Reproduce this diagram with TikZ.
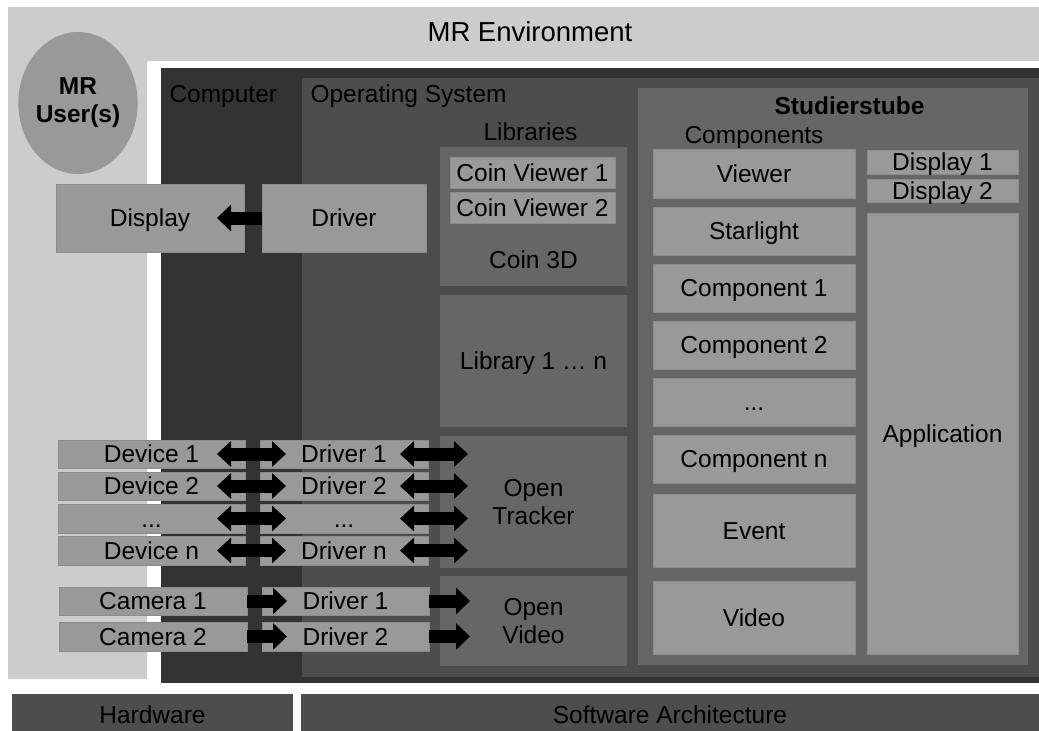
\documentclass[tikz,border=0pt]{standalone}
\usepackage{fontspec}
\setmainfont{Liberation Sans}
\usetikzlibrary{arrows.meta,calc,shapes.geometric}
\definecolor{envgray}{HTML}{CCCCCC}
\definecolor{compgray}{HTML}{333333}
\definecolor{osgray}{HTML}{4D4D4D}
\definecolor{midgray}{HTML}{666666}
\definecolor{boxgray}{HTML}{999999}
\definecolor{boxedge}{HTML}{8C8C8C}
\newcommand\mkbox[7]{\node[#2, minimum width={#5-#3}, minimum height={#6-#4}] (#1) at ({(#3+#5)/2},{(#4+#6)/2}) {#7};}
\tikzset{
  every node/.style={font=\fontsize{24.5}{28}\selectfont, inner sep=0pt, outer sep=0pt, text=black},
  capc/.style={text height=17.5pt, text depth=0pt},
  lightbox/.style={fill=boxgray, draw=boxedge, line width=0.8pt, capc},
  lightbox2/.style={fill=boxgray, draw=boxedge, line width=0.8pt, align=center},
  midbox/.style={fill=midgray, capc},
  midbox2/.style={fill=midgray, align=center},
  darkbar/.style={fill=osgray, capc},
  plain/.style={capc},
  flow/.style={line width=13pt, draw=black, -{Triangle[width=26pt,length=14pt]}},
  dflow/.style={line width=13pt, draw=black, {Triangle[width=25pt,length=14pt]}-{Triangle[width=25pt,length=14pt]}}
}
\begin{document}
\begin{tikzpicture}[x=1pt,y=-1pt]
\useasboundingbox (0,0) rectangle (1039,731);
% MR environment (L shape)
\fill[envgray] (8,7) -- (1039,7) -- (1039,61) -- (147,61) -- (147,679) -- (8,679) -- cycle;
\node[plain, font=\fontsize{27.5}{30}\selectfont] (envlbl) at (530,33) {MR Environment};
\node[ellipse, fill=boxgray, minimum width=118pt, minimum height=142pt, align=center, font=\fontsize{24.5}{28}\selectfont\bfseries] (user) at (78,103) {MR\\User(s)};
% computer and OS
\mkbox{computer}{fill=compgray}{161}{68}{1039}{683}{}
\node[plain, anchor=west] (complbl) at (169.5,93.5) {Computer};
\mkbox{os}{fill=osgray}{302}{78}{1039}{677}{}
\node[plain, anchor=west] (oslbl) at (310.5,93.5) {Operating System};
% libraries
\node[plain] (liblbl) at (530.5,131.5) {Libraries};
\mkbox{coin}{midbox}{440}{147}{627}{286}{}
\mkbox{cv1}{lightbox}{450}{157}{615}{188}{Coin Viewer 1}
\mkbox{cv2}{lightbox}{450}{192}{615}{223}{Coin Viewer 2}
\node[plain] (coinlbl) at (533.5,260) {Coin 3D};
\mkbox{lib}{midbox}{440}{295}{627}{427}{Library 1 … n}
\mkbox{tracker}{midbox2}{440}{436}{627}{568}{Open\\Tracker}
\mkbox{video}{midbox2}{440}{576}{627}{666}{Open\\Video}
% Studierstube
\mkbox{stb}{midbox}{638}{88}{1028}{665}{}
\node[plain, font=\fontsize{24.5}{28}\selectfont\bfseries] (stblbl) at (849.5,106) {Studierstube};
\node[plain] (complbl2) at (754,134.5) {Components};
\mkbox{viewer}{lightbox}{653}{149}{855}{198}{Viewer}
\mkbox{starlight}{lightbox}{653}{207}{855}{255}{Starlight}
\mkbox{c1}{lightbox}{653}{264}{855}{312}{Component 1}
\mkbox{c2}{lightbox}{653}{321}{855}{369}{Component 2}
\mkbox{cx}{lightbox}{653}{378}{855}{426}{...}
\mkbox{cn}{lightbox}{653}{435}{855}{483}{Component n}
\mkbox{event}{lightbox}{653}{494}{855}{567}{Event}
\mkbox{svideo}{lightbox}{653}{581}{855}{654}{Video}
\mkbox{d1}{lightbox}{867}{150}{1018}{174}{Display 1}
\mkbox{d2}{lightbox}{867}{179}{1018}{202}{Display 2}
\mkbox{app}{lightbox}{867}{213}{1018}{654}{Application}
% hardware side
\mkbox{disp}{lightbox}{56}{184}{244}{252}{Display}
\mkbox{ddrv}{lightbox}{262}{184}{426}{252}{Driver}
\mkbox{dev1}{lightbox}{58}{440}{245}{468}{Device 1}
\mkbox{dev2}{lightbox}{58}{472}{245}{500}{Device 2}
\mkbox{devx}{lightbox}{58}{504}{245}{533}{...}
\mkbox{devn}{lightbox}{58}{536}{245}{565}{Device n}
\mkbox{drv1}{lightbox}{260}{440}{428}{468}{Driver 1}
\mkbox{drv2}{lightbox}{260}{472}{428}{500}{Driver 2}
\mkbox{drvx}{lightbox}{260}{504}{428}{533}{...}
\mkbox{drvn}{lightbox}{260}{536}{428}{565}{Driver n}
\mkbox{cam1}{lightbox}{59}{587}{247}{615}{Camera 1}
\mkbox{cam2}{lightbox}{59}{622}{247}{651}{Camera 2}
\mkbox{cdrv1}{lightbox}{262}{587}{429}{615}{Driver 1}
\mkbox{cdrv2}{lightbox}{262}{622}{429}{651}{Driver 2}
% bottom bars
\mkbox{hw}{darkbar}{12}{694}{293}{735}{Hardware}
\mkbox{sw}{darkbar}{301}{694}{1039}{735}{Software Architecture}
% arrows
\draw[flow] (ddrv.west) -- ([xshift=-27pt]disp.east);
\foreach \a/\b in {dev1/drv1,dev2/drv2,devx/drvx,devn/drvn}{
  \draw[dflow] ([xshift=-28pt]\a.east) -- ([xshift=26pt]\b.west);
  \draw[dflow] ([xshift=-28pt]\b.east) -- ($(\b.east -| tracker.west)+(28,0)$);
}
\foreach \a/\b in {cam1/cdrv1,cam2/cdrv2}{
  \draw[flow] (\a.east) -- ([xshift=25pt]\b.west);
  \draw[flow] (\b.east) -- ($(\b.east -| video.west)+(30,0)$);
}
\end{tikzpicture}
\end{document}
